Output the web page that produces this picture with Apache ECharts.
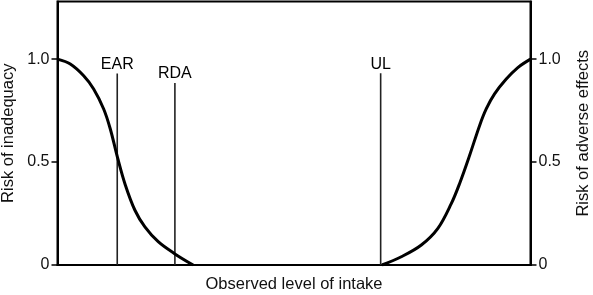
<!DOCTYPE html>
<html>
<head>
<meta charset="utf-8">
<script src="https://cdn.jsdelivr.net/npm/echarts@6/dist/echarts.min.js"></script>
<style>
html,body{margin:0;padding:0;background:#fff;}
#chart{width:593px;height:295px;}
</style>
</head>
<body>
<div id="chart"></div>
<script>
// Risk of inadequacy curve (x = observed intake, 0..100 scale; y = risk)
const inadequacyX = [0, 2.70, 5.53, 7.64, 9.76, 11.15, 12.71, 14.32, 16.37, 18.48, 21.29, 24.82, 28.68];
const inadequacyY = [1.0, 0.976, 0.919, 0.855, 0.758, 0.662, 0.520, 0.390, 0.266, 0.185, 0.113, 0.054, 0.0];
// Risk of adverse effects curve
const adverseX = [68.60, 72.69, 76.92, 80.42, 83.25, 85.00, 87.12, 89.23, 90.64, 92.40, 94.87, 97.32, 100];
const adverseY = [0.0, 0.040, 0.097, 0.178, 0.298, 0.395, 0.532, 0.677, 0.758, 0.831, 0.903, 0.959, 1.0];
// Reference markers
const markerNames = ['EAR', 'RDA', 'UL'];
const markerX = [12.63, 24.82, 68.32];
const markerTop = [0.930, 0.884, 0.932];
// Y tick labels
const yTicks = [0, 0.5, 1.0];
const yTickLabels = ['0', '0.5', '1.0'];

const FONT = '"Liberation Sans", Arial, Helvetica, sans-serif';
const chart = echarts.init(document.getElementById('chart'), null, {renderer: 'canvas'});

function yAxisDef(pos, name, gap) {
  return {
    type: 'value', position: pos, min: 0, max: 1.28,
    name: name, nameLocation: 'middle', nameGap: gap, nameMoveOverlap: false,
    nameTextStyle: {fontFamily: FONT, fontSize: 16.5, color: '#111'},
    axisLine: {show: true, lineStyle: {color: '#000', width: 2}},
    axisTick: {show: true, inside: false, length: 6, customValues: yTicks, lineStyle: {color: '#000', width: 1.5}},
    axisLabel: {show: true, margin: 8, customValues: yTicks, fontFamily: FONT, fontSize: 16, color: '#111',
      formatter: v => yTickLabels[yTicks.indexOf(v)] ?? ''},
    splitLine: {show: false}
  };
}

const series = [
  {
    type: 'line', name: 'inadequacy', smooth: 0.35, showSymbol: false, silent: true,
    data: inadequacyX.map((x, i) => [x, inadequacyY[i]]),
    lineStyle: {color: '#000', width: 3}, z: 5
  },
  {
    type: 'line', name: 'adverse', smooth: 0.35, showSymbol: false, silent: true,
    data: adverseX.map((x, i) => [x, adverseY[i]]),
    lineStyle: {color: '#000', width: 3}, z: 5
  }
];
markerNames.forEach((n, i) => {
  series.push({
    type: 'line', showSymbol: false, silent: true,
    data: [[markerX[i], 0], [markerX[i], markerTop[i]]],
    lineStyle: {color: '#222', width: 1.6}, z: 4
  });
});
series.push({
  type: 'scatter', silent: true, symbolSize: 0,
  itemStyle: {color: '#000'},
  data: markerNames.map((n, i) => ({value: [markerX[i], markerTop[i]], name: n})),
  label: {show: true, position: 'top', distance: 1, formatter: p => p.name,
    fontFamily: FONT, fontSize: 16, color: '#000', opacity: 1}
});

chart.setOption({
  animation: false,
  backgroundColor: '#fff',
  grid: {left: 57.5, right: 62.5, top: 1.5, bottom: 30, containLabel: false, outerBoundsMode: 'none',
    show: true, borderColor: '#000', borderWidth: 2},
  xAxis: {
    type: 'value', min: 0, max: 100,
    name: 'Observed level of intake', nameLocation: 'middle', nameGap: 11, nameMoveOverlap: false,
    nameTextStyle: {fontFamily: FONT, fontSize: 16.5, color: '#111'},
    axisLine: {show: true, lineStyle: {color: '#000', width: 2}},
    axisTick: {show: false}, axisLabel: {show: false}, splitLine: {show: false}
  },
  yAxis: [yAxisDef('left', 'Risk of inadequacy', 41), yAxisDef('right', 'Risk of adverse effects', 44)],
  series: series
});
</script>
</body>
</html>
